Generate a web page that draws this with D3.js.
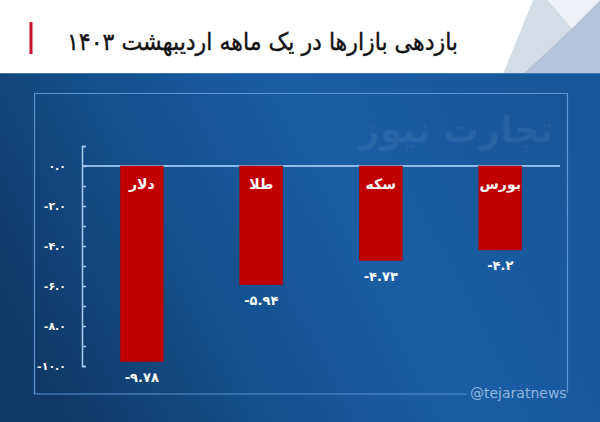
<!DOCTYPE html>
<html><head><meta charset="utf-8">
<script src="https://cdn.jsdelivr.net/npm/d3@7"></script>
<style>html,body{margin:0;padding:0;background:#fff;}svg{display:block;}</style>
</head><body>
<svg id="c" width="600" height="422"></svg>
<script>
const categories = ["دلار","طلا","سکه","بورس"];
const values = [-9.78, -5.94, -4.73, -4.2];
const valueLabels = ["-۹.۷۸","-۵.۹۴","-۴.۷۳","-۴.۲"];
const tickValues = [1,0,-1,-2,-3,-4,-5,-6,-7,-8,-9,-10];
const tickLabels = {"0":"۰.۰","-2":"-۲.۰","-4":"-۴.۰","-6":"-۶.۰","-8":"-۸.۰","-10":"-۱۰.۰"};
const title = "بازدهی بازارها در یک ماهه اردیبهشت ۱۴۰۳";
const watermark = "تجارت نیوز";
const handle = "@tejaratnews";

const svg = d3.select("#c");
const FONT = "DejaVu Sans, sans-serif";
const defs = svg.append("defs");
const g1 = defs.append("linearGradient").attr("id","bg").attr("x1","0").attr("y1","0.6").attr("x2","1").attr("y2","0.3");
g1.append("stop").attr("offset","0").attr("stop-color","#0f3a67");
g1.append("stop").attr("offset","0.3").attr("stop-color","#154f8c");
g1.append("stop").attr("offset","0.6").attr("stop-color","#1a5ea5");
g1.append("stop").attr("offset","1").attr("stop-color","#185797");

// header
svg.append("rect").attr("x",0).attr("y",0).attr("width",600).attr("height",74).attr("fill","#ffffff");
svg.append("polygon").attr("points","533,0 548,0 572,28 523,74 503,74").attr("fill","#d3dde8");
svg.append("polygon").attr("points","572,28 600,0 600,74 523,74").attr("fill","#b3c4d8");
svg.append("polygon").attr("points","548,0 600,0 572,28").attr("fill","#eef2f6");
svg.append("rect").attr("x",29.5).attr("y",22).attr("width",3).attr("height",32).attr("fill","#c8102e");
svg.append("text").attr("x",458).attr("y",50).attr("text-anchor","start")
  .attr("direction","rtl").attr("font-family",FONT).attr("font-size",24).attr("fill","#111")
  .attr("stroke","#111").attr("stroke-width",0.4)
  .attr("textLength",391).attr("lengthAdjust","spacingAndGlyphs").text(title);

// blue body
svg.append("rect").attr("x",0).attr("y",73).attr("width",600).attr("height",349).attr("fill","url(#bg)");
svg.append("line").attr("x1",0).attr("x2",600).attr("y1",73.5).attr("y2",73.5).attr("stroke","#3c78b8").attr("stroke-width",1);

// frame
const fr = svg.append("g").attr("fill","none").attr("stroke","#5b95d2").attr("stroke-width",1.2);
fr.append("path").attr("d","M467,394H34.5V93.5H567.5V393");

// watermark
svg.append("text").attr("x",553).attr("y",142).attr("text-anchor","start").attr("direction","rtl")
  .attr("font-family",FONT).attr("font-weight","bold").attr("font-size",36)
  .attr("fill","#ffffff").attr("fill-opacity",0.06).text(watermark);

svg.append("text").attr("x",470).attr("y",398).attr("font-family",FONT).attr("font-size",14)
  .attr("fill","#8fb4de").text(handle);

// scales
const x = d3.scaleBand().domain(categories).range([82,560]).paddingInner(0.64).paddingOuter(0.32);
const y = d3.scaleLinear().domain([-10,1]).range([366,146]);

// zero line
svg.append("line").attr("x1",82).attr("x2",560).attr("y1",y(0)).attr("y2",y(0))
  .attr("stroke","#8cb9e8").attr("stroke-width",2);

// axis
const ax = svg.append("g").attr("transform","translate(82,0)")
  .call(d3.axisLeft(y).tickValues(tickValues).tickSize(-4).tickSizeOuter(-4).tickPadding(16)
    .tickFormat(d => tickLabels[String(d)] || ""));
ax.selectAll("path,line").attr("stroke","#a8ccf0").attr("stroke-width",1.5);
ax.selectAll("text").attr("fill","#ffffff").attr("font-family",FONT).attr("font-weight","bold")
  .attr("font-size",11).attr("direction","ltr");

// bars
const data = categories.map((c,i)=>({c, v:values[i], l:valueLabels[i]}));
svg.append("g").selectAll("rect").data(data).join("rect")
  .attr("x",d=>x(d.c)).attr("width",x.bandwidth())
  .attr("y",y(0)).attr("height",d=>y(d.v)-y(0))
  .attr("fill","#c00000").attr("stroke","#a50808").attr("stroke-width",0.5);

svg.append("g").selectAll("text").data(data).join("text")
  .attr("x",d=>x(d.c)+x.bandwidth()/2).attr("y",y(0)+23)
  .attr("text-anchor","middle").attr("font-family",FONT).attr("font-weight","bold")
  .attr("font-size",14).attr("fill","#ffffff").text(d=>d.c);

svg.append("g").selectAll("text").data(data).join("text")
  .attr("x",d=>x(d.c)+x.bandwidth()/2).attr("y",d=>y(d.v)+20)
  .attr("text-anchor","middle").attr("direction","ltr").attr("font-family",FONT).attr("font-weight","bold")
  .attr("font-size",13).attr("fill","#ffffff").text(d=>d.l);
</script>
</body></html>
